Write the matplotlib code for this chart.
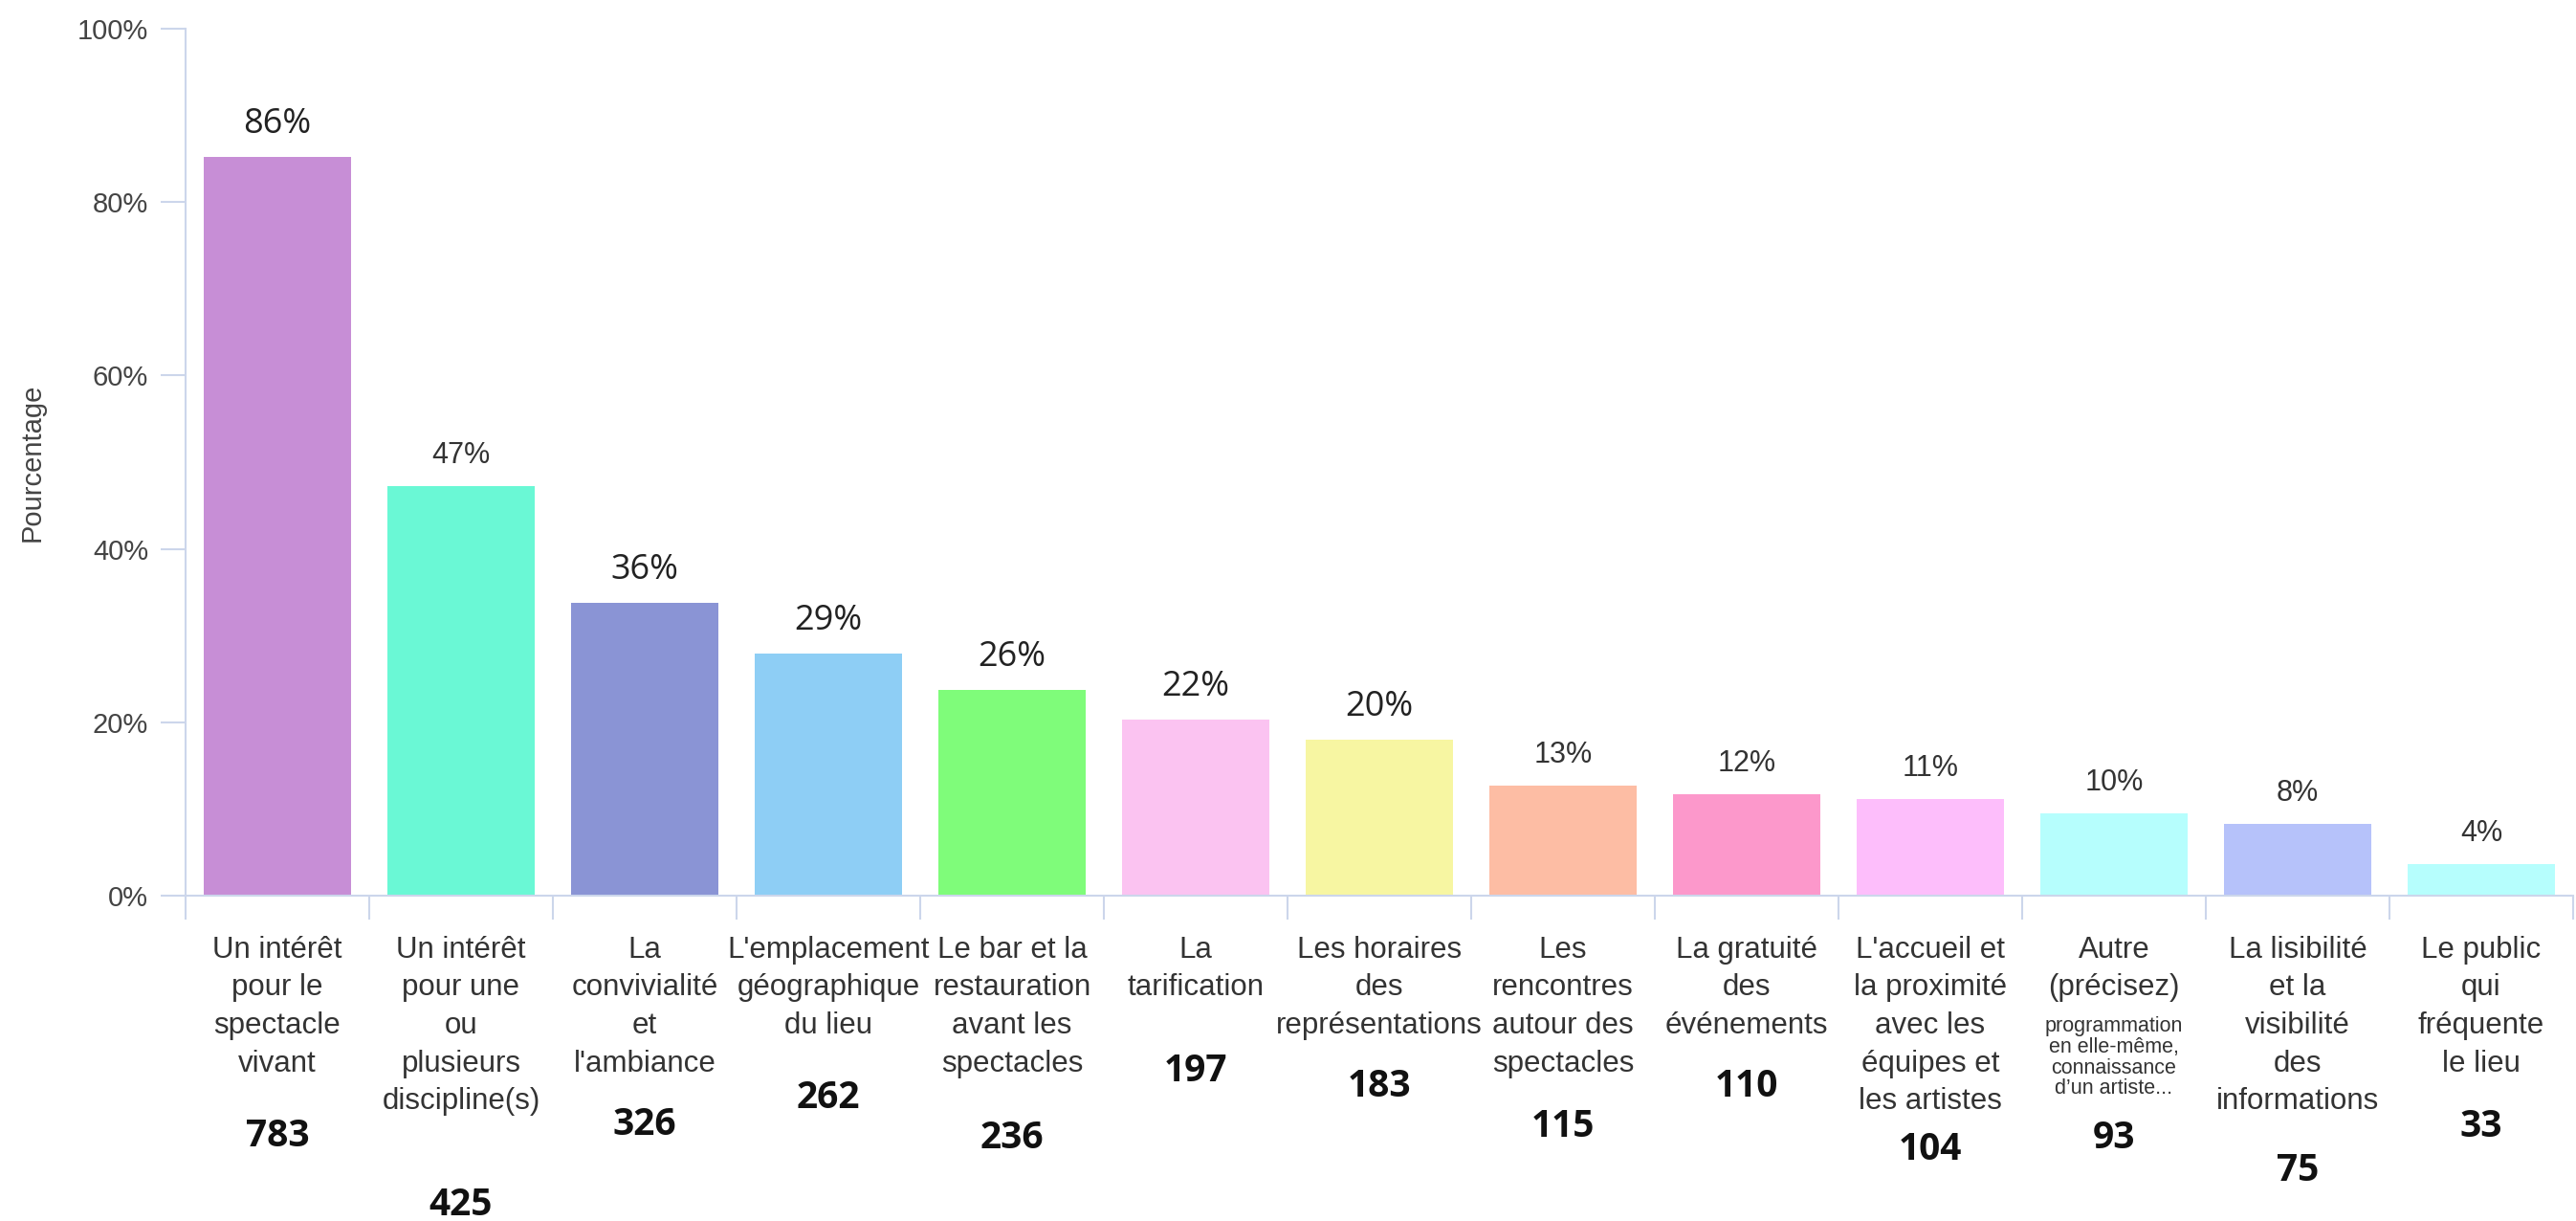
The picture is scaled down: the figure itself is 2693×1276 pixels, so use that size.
import matplotlib
matplotlib.use("Agg")
import matplotlib.pyplot as plt
import numpy as np

# data
categories = [
    "Un intérêt\npour le\nspectacle\nvivant",
    "Un intérêt\npour une\nou\nplusieurs\ndiscipline(s)",
    "La\nconvivialité\net\nl'ambiance",
    "L'emplacement\ngéographique\ndu lieu",
    "Le bar et la\nrestauration\navant les\nspectacles",
    "La\ntarification",
    "Les horaires\ndes\nreprésentations",
    "Les\nrencontres\nautour des\nspectacles",
    "La gratuité\ndes\névénements",
    "L'accueil et\nla proximité\navec les\néquipes et\nles artistes",
    "Autre\n(précisez)",
    "La lisibilité\net la\nvisibilité\ndes\ninformations",
    "Le public\nqui\nfréquente\nle lieu",
]
bar_values = [85.2, 47.2, 33.8, 27.9, 23.7, 20.3, 18.0, 12.7, 11.7, 11.2, 9.5, 8.3, 3.6]
pct_labels = ["86%", "47%", "36%", "29%", "26%", "22%", "20%",
              "13%", "12%", "11%", "10%", "8%", "4%"]
counts = [783, 425, 326, 262, 236, 197, 183, 115, 110, 104, 93, 75, 33]
autre_note = "programmation\nen elle-même,\nconnaissance\nd’un artiste..."

colors = ["#C78ED6", "#6AF8D5", "#8A94D5", "#8ECEF5", "#7FFC7A", "#FBC3F1",
          "#F7F6A2", "#FDBDA4", "#FC98CB", "#FDBEFB", "#B6FEFD", "#B6C2FA", "#B6FEFD"]

# layout: which % labels use the larger font, and how far below the axis each count sits (px)
big_pct = {0, 2, 3, 4, 5, 6}
count_drop = [252, 323, 240, 211, 254, 184, 199, 242, 199, 266, 254, 287, 242]

axis_col = "#CCD6EB"
text_col = "#333333"

fig = plt.figure(figsize=(26.93, 12.76), dpi=100)
ax = fig.add_axes([194 / 2693, 1 - 936 / 1276, 2496 / 2693, 906 / 1276])

x = np.arange(len(categories))
ax.bar(x, bar_values, width=0.8, color=colors, zorder=2)

ax.set_xlim(-0.5, len(categories) - 0.5)
ax.set_ylim(0, 100)

ax.set_yticks([0, 20, 40, 60, 80, 100])
ax.set_yticklabels(["0%", "20%", "40%", "60%", "80%", "100%"])
ax.tick_params(axis="y", length=19, width=1.5, color=axis_col, pad=9,
               labelsize=21, labelcolor="#444444", labelfontfamily="Liberation Sans")

ax.set_xticks(x)
ax.set_xticklabels(categories, fontsize=22.5, color=text_col,
                   family="Liberation Sans", linespacing=1.42)
ax.tick_params(axis="x", which="major", length=0, pad=30)
ax.set_xticks(np.arange(len(categories) + 1) - 0.5, minor=True)
ax.tick_params(axis="x", which="minor", length=18, width=1.5, color=axis_col)

for s in ["top", "right"]:
    ax.spines[s].set_visible(False)
for s in ["left", "bottom"]:
    ax.spines[s].set_color(axis_col)
    ax.spines[s].set_linewidth(1.5)

ax.set_ylabel("Pourcentage", fontsize=21, color="#444444", family="Liberation Sans")
ax.yaxis.set_label_coords(-0.0585, 0.5)

for i, (v, lab) in enumerate(zip(bar_values, pct_labels)):
    if i in big_pct:
        ax.annotate(lab, (i, v), xytext=(0, 34), textcoords="offset pixels",
                    ha="center", va="center", fontsize=26, color="#222222",
                    family="Open Sans")
    else:
        ax.annotate(lab, (i, v), xytext=(0, 32), textcoords="offset pixels",
                    ha="center", va="center", fontsize=22, color="#333333",
                    family="Liberation Sans")

for i, n in enumerate(counts):
    ax.annotate(str(n), (i, 0), xytext=(0, -count_drop[i]), textcoords="offset pixels",
                ha="center", va="center", fontsize=28, fontweight="bold",
                color="#111111", family="Open Sans", annotation_clip=False)

ax.annotate(autre_note, (10, 0), xytext=(0, -126), textcoords="offset pixels",
            ha="center", va="top", fontsize=15.5, color=text_col,
            family="Liberation Sans", linespacing=1.05, annotation_clip=False)

fig.savefig("out.png", dpi=100)
